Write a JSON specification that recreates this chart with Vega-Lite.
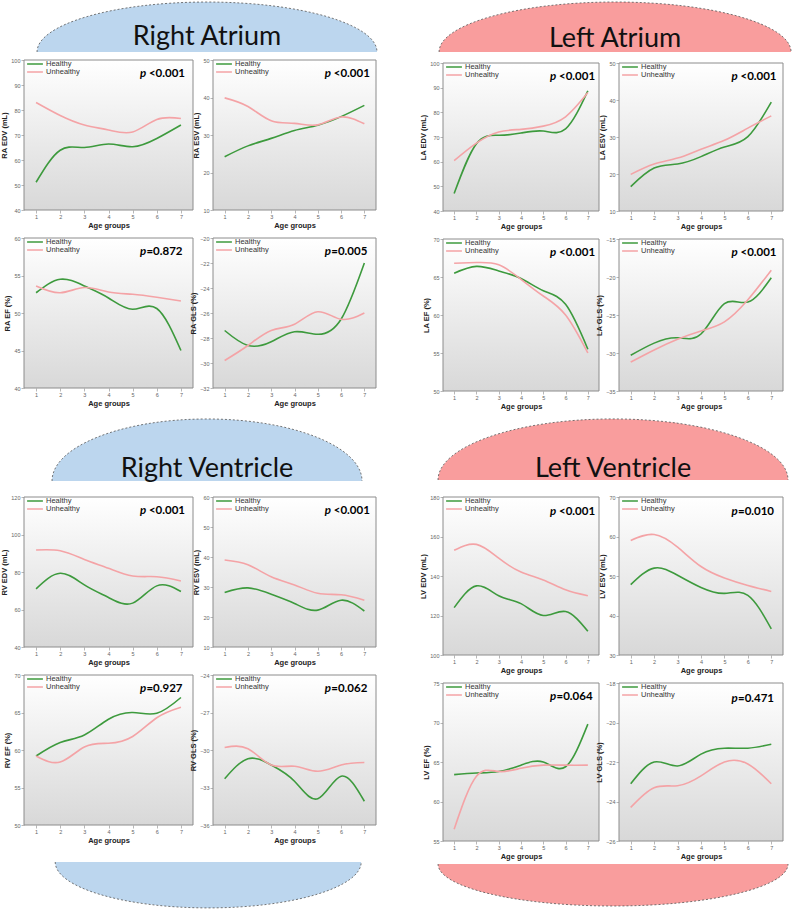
{
"$schema":"https://vega.github.io/schema/vega-lite/v6.json",
"padding":{"left":0,"top":0,"right":0,"bottom":0},
"background":"#ffffff",
"datasets":{"rows":[
{"panel":"RA EDV","age":1,"Healthy":51.1,"Unhealthy":83.0},{"panel":"RA EDV","age":2,"Healthy":63.9,"Unhealthy":77.8},{"panel":"RA EDV","age":3,"Healthy":65.0,"Unhealthy":74.0},{"panel":"RA EDV","age":4,"Healthy":66.4,"Unhealthy":72.0},{"panel":"RA EDV","age":5,"Healthy":65.3,"Unhealthy":71.2},{"panel":"RA EDV","age":6,"Healthy":68.6,"Unhealthy":76.2},{"panel":"RA EDV","age":7,"Healthy":74.0,"Unhealthy":76.6},
{"panel":"RA ESV","age":1,"Healthy":24.2,"Unhealthy":39.9},{"panel":"RA ESV","age":2,"Healthy":27.1,"Unhealthy":37.6},{"panel":"RA ESV","age":3,"Healthy":29.1,"Unhealthy":33.8},{"panel":"RA ESV","age":4,"Healthy":31.2,"Unhealthy":33.1},{"panel":"RA ESV","age":5,"Healthy":32.6,"Unhealthy":32.7},{"panel":"RA ESV","age":6,"Healthy":34.9,"Unhealthy":34.8},{"panel":"RA ESV","age":7,"Healthy":37.9,"Unhealthy":33.0},
{"panel":"RA EF","age":1,"Healthy":52.7,"Unhealthy":53.6},{"panel":"RA EF","age":2,"Healthy":54.5,"Unhealthy":52.7},{"panel":"RA EF","age":3,"Healthy":53.6,"Unhealthy":53.4},{"panel":"RA EF","age":4,"Healthy":52.0,"Unhealthy":52.8},{"panel":"RA EF","age":5,"Healthy":50.5,"Unhealthy":52.5},{"panel":"RA EF","age":6,"Healthy":50.6,"Unhealthy":52.1},{"panel":"RA EF","age":7,"Healthy":45.0,"Unhealthy":51.6},
{"panel":"RA GLS","age":1,"Healthy":-27.4,"Unhealthy":-29.8},{"panel":"RA GLS","age":2,"Healthy":-28.6,"Unhealthy":-28.6},{"panel":"RA GLS","age":3,"Healthy":-28.3,"Unhealthy":-27.4},{"panel":"RA GLS","age":4,"Healthy":-27.5,"Unhealthy":-26.9},{"panel":"RA GLS","age":5,"Healthy":-27.7,"Unhealthy":-25.9},{"panel":"RA GLS","age":6,"Healthy":-26.5,"Unhealthy":-26.5},{"panel":"RA GLS","age":7,"Healthy":-22.0,"Unhealthy":-26.0},
{"panel":"LA EDV","age":1,"Healthy":47.1,"Unhealthy":60.4},{"panel":"LA EDV","age":2,"Healthy":67.3,"Unhealthy":67.5},{"panel":"LA EDV","age":3,"Healthy":70.7,"Unhealthy":72.0},{"panel":"LA EDV","age":4,"Healthy":71.6,"Unhealthy":73.1},{"panel":"LA EDV","age":5,"Healthy":72.4,"Unhealthy":74.4},{"panel":"LA EDV","age":6,"Healthy":73.3,"Unhealthy":78.2},{"panel":"LA EDV","age":7,"Healthy":88.7,"Unhealthy":88.0},
{"panel":"LA ESV","age":1,"Healthy":16.6,"Unhealthy":19.9},{"panel":"LA ESV","age":2,"Healthy":21.6,"Unhealthy":22.7},{"panel":"LA ESV","age":3,"Healthy":22.7,"Unhealthy":24.3},{"panel":"LA ESV","age":4,"Healthy":24.7,"Unhealthy":26.7},{"panel":"LA ESV","age":5,"Healthy":27.3,"Unhealthy":29.1},{"panel":"LA ESV","age":6,"Healthy":30.1,"Unhealthy":32.4},{"panel":"LA ESV","age":7,"Healthy":39.4,"Unhealthy":35.7},
{"panel":"LA EF","age":1,"Healthy":65.5,"Unhealthy":66.8},{"panel":"LA EF","age":2,"Healthy":66.4,"Unhealthy":66.9},{"panel":"LA EF","age":3,"Healthy":65.8,"Unhealthy":66.6},{"panel":"LA EF","age":4,"Healthy":64.8,"Unhealthy":64.7},{"panel":"LA EF","age":5,"Healthy":63.2,"Unhealthy":62.5},{"panel":"LA EF","age":6,"Healthy":61.4,"Unhealthy":60.0},{"panel":"LA EF","age":7,"Healthy":55.5,"Unhealthy":55.0},
{"panel":"LA GLS","age":1,"Healthy":-30.3,"Unhealthy":-31.2},{"panel":"LA GLS","age":2,"Healthy":-28.7,"Unhealthy":-29.6},{"panel":"LA GLS","age":3,"Healthy":-28.0,"Unhealthy":-28.2},{"panel":"LA GLS","age":4,"Healthy":-27.5,"Unhealthy":-27.1},{"panel":"LA GLS","age":5,"Healthy":-23.5,"Unhealthy":-25.9},{"panel":"LA GLS","age":6,"Healthy":-23.3,"Unhealthy":-23.0},{"panel":"LA GLS","age":7,"Healthy":-20.1,"Unhealthy":-19.1},
{"panel":"RV EDV","age":1,"Healthy":71.0,"Unhealthy":91.7},{"panel":"RV EDV","age":2,"Healthy":79.3,"Unhealthy":91.3},{"panel":"RV EDV","age":3,"Healthy":73.1,"Unhealthy":86.7},{"panel":"RV EDV","age":4,"Healthy":66.4,"Unhealthy":82.0},{"panel":"RV EDV","age":5,"Healthy":63.4,"Unhealthy":77.9},{"panel":"RV EDV","age":6,"Healthy":72.6,"Unhealthy":77.5},{"panel":"RV EDV","age":7,"Healthy":69.6,"Unhealthy":75.2},
{"panel":"RV ESV","age":1,"Healthy":28.2,"Unhealthy":39.0},{"panel":"RV ESV","age":2,"Healthy":29.7,"Unhealthy":37.4},{"panel":"RV ESV","age":3,"Healthy":27.6,"Unhealthy":33.4},{"panel":"RV ESV","age":4,"Healthy":24.5,"Unhealthy":30.7},{"panel":"RV ESV","age":5,"Healthy":22.3,"Unhealthy":27.9},{"panel":"RV ESV","age":6,"Healthy":25.6,"Unhealthy":27.4},{"panel":"RV ESV","age":7,"Healthy":22.0,"Unhealthy":25.6},
{"panel":"RV EF","age":1,"Healthy":59.2,"Unhealthy":59.2},{"panel":"RV EF","age":2,"Healthy":61.0,"Unhealthy":58.4},{"panel":"RV EF","age":3,"Healthy":62.0,"Unhealthy":60.4},{"panel":"RV EF","age":4,"Healthy":64.1,"Unhealthy":60.9},{"panel":"RV EF","age":5,"Healthy":65.0,"Unhealthy":61.8},{"panel":"RV EF","age":6,"Healthy":64.9,"Unhealthy":64.3},{"panel":"RV EF","age":7,"Healthy":67.0,"Unhealthy":65.7},
{"panel":"RV GLS","age":1,"Healthy":-32.3,"Unhealthy":-29.8},{"panel":"RV GLS","age":2,"Healthy":-30.7,"Unhealthy":-29.9},{"panel":"RV GLS","age":3,"Healthy":-31.2,"Unhealthy":-31.2},{"panel":"RV GLS","age":4,"Healthy":-32.5,"Unhealthy":-31.3},{"panel":"RV GLS","age":5,"Healthy":-33.9,"Unhealthy":-31.7},{"panel":"RV GLS","age":6,"Healthy":-32.1,"Unhealthy":-31.2},{"panel":"RV GLS","age":7,"Healthy":-34.1,"Unhealthy":-31.0},
{"panel":"LV EDV","age":1,"Healthy":124,"Unhealthy":153},{"panel":"LV EDV","age":2,"Healthy":135,"Unhealthy":156},{"panel":"LV EDV","age":3,"Healthy":130,"Unhealthy":149},{"panel":"LV EDV","age":4,"Healthy":126,"Unhealthy":142},{"panel":"LV EDV","age":5,"Healthy":120,"Unhealthy":138},{"panel":"LV EDV","age":6,"Healthy":122,"Unhealthy":133},{"panel":"LV EDV","age":7,"Healthy":112,"Unhealthy":130},
{"panel":"LV ESV","age":1,"Healthy":47.8,"Unhealthy":59.0},{"panel":"LV ESV","age":2,"Healthy":52.0,"Unhealthy":60.5},{"panel":"LV ESV","age":3,"Healthy":50.2,"Unhealthy":57.3},{"panel":"LV ESV","age":4,"Healthy":47.1,"Unhealthy":52.4},{"panel":"LV ESV","age":5,"Healthy":45.6,"Unhealthy":49.5},{"panel":"LV ESV","age":6,"Healthy":45.1,"Unhealthy":47.6},{"panel":"LV ESV","age":7,"Healthy":36.6,"Unhealthy":46.1},
{"panel":"LV EF","age":1,"Healthy":63.4,"Unhealthy":56.5},{"panel":"LV EF","age":2,"Healthy":63.6,"Unhealthy":63.2},{"panel":"LV EF","age":3,"Healthy":63.8,"Unhealthy":63.8},{"panel":"LV EF","age":4,"Healthy":64.6,"Unhealthy":64.2},{"panel":"LV EF","age":5,"Healthy":65.0,"Unhealthy":64.6},{"panel":"LV EF","age":6,"Healthy":64.4,"Unhealthy":64.6},{"panel":"LV EF","age":7,"Healthy":69.8,"Unhealthy":64.6},
{"panel":"LV GLS","age":1,"Healthy":-23.1,"Unhealthy":-24.3},{"panel":"LV GLS","age":2,"Healthy":-22.0,"Unhealthy":-23.3},{"panel":"LV GLS","age":3,"Healthy":-22.2,"Unhealthy":-23.2},{"panel":"LV GLS","age":4,"Healthy":-21.6,"Unhealthy":-22.7},{"panel":"LV GLS","age":5,"Healthy":-21.3,"Unhealthy":-22.0},{"panel":"LV GLS","age":6,"Healthy":-21.3,"Unhealthy":-22.1},{"panel":"LV GLS","age":7,"Healthy":-21.1,"Unhealthy":-23.1}
]},
"data":{"name":"rows"},
"spacing":40,
"resolve":{"scale":{"x":"independent","y":"independent","color":"independent"},"legend":{"color":"independent"}},
"hconcat":[
{"columns":2,"bounds":"flush","align":"each","spacing":{"row":28,"column":20},
 "resolve":{"scale":{"x":"independent","y":"independent","color":"independent"},"legend":{"color":"independent"}},
 "concat":[
  {"width":169,"height":30,"data":{"values":[{"t":"Right Atrium"}]},"layer":[
   {"mark":{"type":"point","shape":"M-1,0A1,0.294,0,0,1,1,0","size":115600,"filled":true,"fill":"#bcd6ee","stroke":"#555555","strokeWidth":0.8,"strokeDash":[2,2],"opacity":1},"encoding":{"x":{"datum":1.083,"type":"quantitative","scale":{"domain":[0,1]},"axis":null},"y":{"datum":-0.667,"type":"quantitative","scale":{"domain":[0,1]},"axis":null}}},
   {"mark":{"type":"text","font":"Lato","fontSize":27,"color":"#111111","baseline":"middle"},"encoding":{"x":{"datum":1.083,"type":"quantitative","scale":{"domain":[0,1]},"axis":null},"y":{"datum":-0.167,"type":"quantitative","scale":{"domain":[0,1]},"axis":null},"text":{"field":"t"}}}
  ]},
  {"width":163,"height":30,"data":{"values":[{"t":""}]},"mark":{"type":"text"},"encoding":{"text":{"field":"t"}}},
  {"width":169,"height":150,"layer":[
   {"data":{"values":[{}]},"mark":{"type":"rect","stroke":"#8c8c8c","strokeWidth":1,"fill":{"gradient":"linear","x1":0,"y1":0,"x2":0,"y2":1,"stops":[{"offset":0,"color":"#ffffff"},{"offset":1,"color":"#d8d8d8"}]}},"encoding":{}},
   {"transform":[{"filter":"datum.panel==='RA EDV'"},{"fold":["Healthy","Unhealthy"],"as":["status","value"]}],"mark":{"type":"line","interpolate":"natural","strokeWidth":1.6},"encoding":{"x":{"field":"age","type":"quantitative","scale":{"domain":[0.5,7.5],"nice":false,"zero":false},"axis":{"values":[1,2,3,4,5,6,7],"tickCount":20,"format":"d","title":"Age groups"}},"y":{"field":"value","type":"quantitative","scale":{"domain":[40,100],"nice":false,"zero":false},"axis":{"values":[40,50,60,70,80,90,100],"tickCount":20,"format":"d","title":"RA EDV (mL)"}},"color":{"field":"status","type":"nominal","scale":{"domain":["Healthy","Unhealthy"],"range":["#3d9a3d","#f4a3a6"]},"legend":{"title":null}}}},
   {"data":{"values":[{"t":"p"}]},"mark":{"type":"text","align":"left","baseline":"middle","font":"Lato","fontSize":11.5,"fontWeight":"bold","fontStyle":"italic"},"encoding":{"x":{"datum":5.3},"y":{"datum":94.3},"text":{"field":"t"}}},
   {"data":{"values":[{"t":"<0.001"}]},"mark":{"type":"text","align":"left","baseline":"middle","font":"Lato","fontSize":11.5,"fontWeight":"bold","dx":9},"encoding":{"x":{"datum":5.3},"y":{"datum":94.3},"text":{"field":"t"}}}
  ]},
  {"width":163,"height":150,"layer":[
   {"data":{"values":[{}]},"mark":{"type":"rect","stroke":"#8c8c8c","strokeWidth":1,"fill":{"gradient":"linear","x1":0,"y1":0,"x2":0,"y2":1,"stops":[{"offset":0,"color":"#ffffff"},{"offset":1,"color":"#d8d8d8"}]}},"encoding":{}},
   {"transform":[{"filter":"datum.panel==='RA ESV'"},{"fold":["Healthy","Unhealthy"],"as":["status","value"]}],"mark":{"type":"line","interpolate":"natural","strokeWidth":1.6},"encoding":{"x":{"field":"age","type":"quantitative","scale":{"domain":[0.5,7.5],"nice":false,"zero":false},"axis":{"values":[1,2,3,4,5,6,7],"tickCount":20,"format":"d","title":"Age groups"}},"y":{"field":"value","type":"quantitative","scale":{"domain":[10,50],"nice":false,"zero":false},"axis":{"values":[10,20,30,40,50],"tickCount":20,"format":"d","title":"RA ESV (mL)"}},"color":{"field":"status","type":"nominal","scale":{"domain":["Healthy","Unhealthy"],"range":["#3d9a3d","#f4a3a6"]},"legend":{"title":null}}}},
   {"data":{"values":[{"t":"p"}]},"mark":{"type":"text","align":"left","baseline":"middle","font":"Lato","fontSize":11.5,"fontWeight":"bold","fontStyle":"italic"},"encoding":{"x":{"datum":5.3},"y":{"datum":46.2},"text":{"field":"t"}}},
   {"data":{"values":[{"t":"<0.001"}]},"mark":{"type":"text","align":"left","baseline":"middle","font":"Lato","fontSize":11.5,"fontWeight":"bold","dx":9},"encoding":{"x":{"datum":5.3},"y":{"datum":46.2},"text":{"field":"t"}}}
  ]},
  {"width":169,"height":150,"layer":[
   {"data":{"values":[{}]},"mark":{"type":"rect","stroke":"#8c8c8c","strokeWidth":1,"fill":{"gradient":"linear","x1":0,"y1":0,"x2":0,"y2":1,"stops":[{"offset":0,"color":"#ffffff"},{"offset":1,"color":"#d8d8d8"}]}},"encoding":{}},
   {"transform":[{"filter":"datum.panel==='RA EF'"},{"fold":["Healthy","Unhealthy"],"as":["status","value"]}],"mark":{"type":"line","interpolate":"natural","strokeWidth":1.6},"encoding":{"x":{"field":"age","type":"quantitative","scale":{"domain":[0.5,7.5],"nice":false,"zero":false},"axis":{"values":[1,2,3,4,5,6,7],"tickCount":20,"format":"d","title":"Age groups"}},"y":{"field":"value","type":"quantitative","scale":{"domain":[40,60],"nice":false,"zero":false},"axis":{"values":[40,45,50,55,60],"tickCount":20,"format":"d","title":"RA EF (%)"}},"color":{"field":"status","type":"nominal","scale":{"domain":["Healthy","Unhealthy"],"range":["#3d9a3d","#f4a3a6"]},"legend":{"title":null}}}},
   {"data":{"values":[{"t":"p"}]},"mark":{"type":"text","align":"left","baseline":"middle","font":"Lato","fontSize":11.5,"fontWeight":"bold","fontStyle":"italic"},"encoding":{"x":{"datum":5.3},"y":{"datum":58.2},"text":{"field":"t"}}},
   {"data":{"values":[{"t":"=0.872"}]},"mark":{"type":"text","align":"left","baseline":"middle","font":"Lato","fontSize":11.5,"fontWeight":"bold","dx":6.5},"encoding":{"x":{"datum":5.3},"y":{"datum":58.2},"text":{"field":"t"}}}
  ]},
  {"width":163,"height":150,"layer":[
   {"data":{"values":[{}]},"mark":{"type":"rect","stroke":"#8c8c8c","strokeWidth":1,"fill":{"gradient":"linear","x1":0,"y1":0,"x2":0,"y2":1,"stops":[{"offset":0,"color":"#ffffff"},{"offset":1,"color":"#d8d8d8"}]}},"encoding":{}},
   {"transform":[{"filter":"datum.panel==='RA GLS'"},{"fold":["Healthy","Unhealthy"],"as":["status","value"]}],"mark":{"type":"line","interpolate":"natural","strokeWidth":1.6},"encoding":{"x":{"field":"age","type":"quantitative","scale":{"domain":[0.5,7.5],"nice":false,"zero":false},"axis":{"values":[1,2,3,4,5,6,7],"tickCount":20,"format":"d","title":"Age groups"}},"y":{"field":"value","type":"quantitative","scale":{"domain":[-32,-20],"nice":false,"zero":false},"axis":{"values":[-32,-30,-28,-26,-24,-22,-20],"tickCount":20,"format":"d","title":"RA GLS (%)"}},"color":{"field":"status","type":"nominal","scale":{"domain":["Healthy","Unhealthy"],"range":["#3d9a3d","#f4a3a6"]},"legend":{"title":null}}}},
   {"data":{"values":[{"t":"p"}]},"mark":{"type":"text","align":"left","baseline":"middle","font":"Lato","fontSize":11.5,"fontWeight":"bold","fontStyle":"italic"},"encoding":{"x":{"datum":5.3},"y":{"datum":-21.1},"text":{"field":"t"}}},
   {"data":{"values":[{"t":"=0.005"}]},"mark":{"type":"text","align":"left","baseline":"middle","font":"Lato","fontSize":11.5,"fontWeight":"bold","dx":6.5},"encoding":{"x":{"datum":5.3},"y":{"datum":-21.1},"text":{"field":"t"}}}
  ]},
  {"width":169,"height":53,"data":{"values":[{"t":"Right Ventricle"}]},"layer":[
   {"mark":{"type":"point","shape":"M-1,0A1,0.4,0,0,1,1,0","size":96100,"filled":true,"fill":"#bcd6ee","stroke":"#555555","strokeWidth":0.8,"strokeDash":[2,2],"opacity":1},"encoding":{"x":{"datum":1.083,"type":"quantitative","scale":{"domain":[0,1]},"axis":null},"y":{"datum":-0.226,"type":"quantitative","scale":{"domain":[0,1]},"axis":null}}},
   {"mark":{"type":"text","font":"Lato","fontSize":27,"color":"#111111","baseline":"middle"},"encoding":{"x":{"datum":1.083,"type":"quantitative","scale":{"domain":[0,1]},"axis":null},"y":{"datum":0,"type":"quantitative","scale":{"domain":[0,1]},"axis":null},"text":{"field":"t"}}}
  ]},
  {"width":163,"height":53,"data":{"values":[{"t":""}]},"mark":{"type":"text"},"encoding":{"text":{"field":"t"}}},
  {"width":169,"height":150,"layer":[
   {"data":{"values":[{}]},"mark":{"type":"rect","stroke":"#8c8c8c","strokeWidth":1,"fill":{"gradient":"linear","x1":0,"y1":0,"x2":0,"y2":1,"stops":[{"offset":0,"color":"#ffffff"},{"offset":1,"color":"#d8d8d8"}]}},"encoding":{}},
   {"transform":[{"filter":"datum.panel==='RV EDV'"},{"fold":["Healthy","Unhealthy"],"as":["status","value"]}],"mark":{"type":"line","interpolate":"natural","strokeWidth":1.6},"encoding":{"x":{"field":"age","type":"quantitative","scale":{"domain":[0.5,7.5],"nice":false,"zero":false},"axis":{"values":[1,2,3,4,5,6,7],"tickCount":20,"format":"d","title":"Age groups"}},"y":{"field":"value","type":"quantitative","scale":{"domain":[40,120],"nice":false,"zero":false},"axis":{"values":[40,60,80,100,120],"tickCount":20,"format":"d","title":"RV EDV (mL)"}},"color":{"field":"status","type":"nominal","scale":{"domain":["Healthy","Unhealthy"],"range":["#3d9a3d","#f4a3a6"]},"legend":{"title":null}}}},
   {"data":{"values":[{"t":"p"}]},"mark":{"type":"text","align":"left","baseline":"middle","font":"Lato","fontSize":11.5,"fontWeight":"bold","fontStyle":"italic"},"encoding":{"x":{"datum":5.3},"y":{"datum":112.6},"text":{"field":"t"}}},
   {"data":{"values":[{"t":"<0.001"}]},"mark":{"type":"text","align":"left","baseline":"middle","font":"Lato","fontSize":11.5,"fontWeight":"bold","dx":9},"encoding":{"x":{"datum":5.3},"y":{"datum":112.6},"text":{"field":"t"}}}
  ]},
  {"width":163,"height":150,"layer":[
   {"data":{"values":[{}]},"mark":{"type":"rect","stroke":"#8c8c8c","strokeWidth":1,"fill":{"gradient":"linear","x1":0,"y1":0,"x2":0,"y2":1,"stops":[{"offset":0,"color":"#ffffff"},{"offset":1,"color":"#d8d8d8"}]}},"encoding":{}},
   {"transform":[{"filter":"datum.panel==='RV ESV'"},{"fold":["Healthy","Unhealthy"],"as":["status","value"]}],"mark":{"type":"line","interpolate":"natural","strokeWidth":1.6},"encoding":{"x":{"field":"age","type":"quantitative","scale":{"domain":[0.5,7.5],"nice":false,"zero":false},"axis":{"values":[1,2,3,4,5,6,7],"tickCount":20,"format":"d","title":"Age groups"}},"y":{"field":"value","type":"quantitative","scale":{"domain":[10,60],"nice":false,"zero":false},"axis":{"values":[10,20,30,40,50,60],"tickCount":20,"format":"d","title":"RV ESV (mL)"}},"color":{"field":"status","type":"nominal","scale":{"domain":["Healthy","Unhealthy"],"range":["#3d9a3d","#f4a3a6"]},"legend":{"title":null}}}},
   {"data":{"values":[{"t":"p"}]},"mark":{"type":"text","align":"left","baseline":"middle","font":"Lato","fontSize":11.5,"fontWeight":"bold","fontStyle":"italic"},"encoding":{"x":{"datum":5.3},"y":{"datum":55.4},"text":{"field":"t"}}},
   {"data":{"values":[{"t":"<0.001"}]},"mark":{"type":"text","align":"left","baseline":"middle","font":"Lato","fontSize":11.5,"fontWeight":"bold","dx":9},"encoding":{"x":{"datum":5.3},"y":{"datum":55.4},"text":{"field":"t"}}}
  ]},
  {"width":169,"height":150,"layer":[
   {"data":{"values":[{}]},"mark":{"type":"rect","stroke":"#8c8c8c","strokeWidth":1,"fill":{"gradient":"linear","x1":0,"y1":0,"x2":0,"y2":1,"stops":[{"offset":0,"color":"#ffffff"},{"offset":1,"color":"#d8d8d8"}]}},"encoding":{}},
   {"transform":[{"filter":"datum.panel==='RV EF'"},{"fold":["Healthy","Unhealthy"],"as":["status","value"]}],"mark":{"type":"line","interpolate":"natural","strokeWidth":1.6},"encoding":{"x":{"field":"age","type":"quantitative","scale":{"domain":[0.5,7.5],"nice":false,"zero":false},"axis":{"values":[1,2,3,4,5,6,7],"tickCount":20,"format":"d","title":"Age groups"}},"y":{"field":"value","type":"quantitative","scale":{"domain":[50,70],"nice":false,"zero":false},"axis":{"values":[50,55,60,65,70],"tickCount":20,"format":"d","title":"RV EF (%)"}},"color":{"field":"status","type":"nominal","scale":{"domain":["Healthy","Unhealthy"],"range":["#3d9a3d","#f4a3a6"]},"legend":{"title":null}}}},
   {"data":{"values":[{"t":"p"}]},"mark":{"type":"text","align":"left","baseline":"middle","font":"Lato","fontSize":11.5,"fontWeight":"bold","fontStyle":"italic"},"encoding":{"x":{"datum":5.3},"y":{"datum":68.1},"text":{"field":"t"}}},
   {"data":{"values":[{"t":"=0.927"}]},"mark":{"type":"text","align":"left","baseline":"middle","font":"Lato","fontSize":11.5,"fontWeight":"bold","dx":6.5},"encoding":{"x":{"datum":5.3},"y":{"datum":68.1},"text":{"field":"t"}}}
  ]},
  {"width":163,"height":150,"layer":[
   {"data":{"values":[{}]},"mark":{"type":"rect","stroke":"#8c8c8c","strokeWidth":1,"fill":{"gradient":"linear","x1":0,"y1":0,"x2":0,"y2":1,"stops":[{"offset":0,"color":"#ffffff"},{"offset":1,"color":"#d8d8d8"}]}},"encoding":{}},
   {"transform":[{"filter":"datum.panel==='RV GLS'"},{"fold":["Healthy","Unhealthy"],"as":["status","value"]}],"mark":{"type":"line","interpolate":"natural","strokeWidth":1.6},"encoding":{"x":{"field":"age","type":"quantitative","scale":{"domain":[0.5,7.5],"nice":false,"zero":false},"axis":{"values":[1,2,3,4,5,6,7],"tickCount":20,"format":"d","title":"Age groups"}},"y":{"field":"value","type":"quantitative","scale":{"domain":[-36,-24],"nice":false,"zero":false},"axis":{"values":[-36,-33,-30,-27,-24],"tickCount":20,"format":"d","title":"RV GLS (%)"}},"color":{"field":"status","type":"nominal","scale":{"domain":["Healthy","Unhealthy"],"range":["#3d9a3d","#f4a3a6"]},"legend":{"title":null}}}},
   {"data":{"values":[{"t":"p"}]},"mark":{"type":"text","align":"left","baseline":"middle","font":"Lato","fontSize":11.5,"fontWeight":"bold","fontStyle":"italic"},"encoding":{"x":{"datum":5.3},"y":{"datum":-25.1},"text":{"field":"t"}}},
   {"data":{"values":[{"t":"=0.062"}]},"mark":{"type":"text","align":"left","baseline":"middle","font":"Lato","fontSize":11.5,"fontWeight":"bold","dx":6.5},"encoding":{"x":{"datum":5.3},"y":{"datum":-25.1},"text":{"field":"t"}}}
  ]},
  {"width":169,"height":20,"data":{"values":[{"t":"cap"}]},"mark":{"type":"point","shape":"M-1,0A1,0.3,0,0,0,1,0","size":93636,"filled":true,"fill":"#bcd6ee","stroke":"#555555","strokeWidth":0.8,"strokeDash":[2,2],"opacity":1},"encoding":{"x":{"datum":1.09,"type":"quantitative","scale":{"domain":[0,1]},"axis":null},"y":{"datum":0.55,"type":"quantitative","scale":{"domain":[0,1]},"axis":null}}},
  {"width":163,"height":20,"data":{"values":[{"t":""}]},"mark":{"type":"text"},"encoding":{"text":{"field":"t"}}}
 ]},
{"columns":2,"bounds":"flush","align":"each","spacing":{"row":28,"column":20},
 "resolve":{"scale":{"x":"independent","y":"independent","color":"independent"},"legend":{"color":"independent"}},
 "concat":[
  {"width":156,"height":33,"data":{"values":[{"t":"Left Atrium"}]},"layer":[
   {"mark":{"type":"point","shape":"M-1,0A1,0.284,0,0,1,1,0","size":123904,"filled":true,"fill":"#f99d9d","stroke":"#555555","strokeWidth":0.8,"strokeDash":[2,2],"opacity":1},"encoding":{"x":{"datum":1.103,"type":"quantitative","scale":{"domain":[0,1]},"axis":null},"y":{"datum":-0.515,"type":"quantitative","scale":{"domain":[0,1]},"axis":null}}},
   {"mark":{"type":"text","font":"Lato","fontSize":27,"color":"#111111","baseline":"middle"},"encoding":{"x":{"datum":1.103,"type":"quantitative","scale":{"domain":[0,1]},"axis":null},"y":{"datum":-0.121,"type":"quantitative","scale":{"domain":[0,1]},"axis":null},"text":{"field":"t"}}}
  ]},
  {"width":164,"height":33,"data":{"values":[{"t":""}]},"mark":{"type":"text"},"encoding":{"text":{"field":"t"}}},
  {"width":156,"height":148,"layer":[
   {"data":{"values":[{}]},"mark":{"type":"rect","stroke":"#8c8c8c","strokeWidth":1,"fill":{"gradient":"linear","x1":0,"y1":0,"x2":0,"y2":1,"stops":[{"offset":0,"color":"#ffffff"},{"offset":1,"color":"#d8d8d8"}]}},"encoding":{}},
   {"transform":[{"filter":"datum.panel==='LA EDV'"},{"fold":["Healthy","Unhealthy"],"as":["status","value"]}],"mark":{"type":"line","interpolate":"natural","strokeWidth":1.6},"encoding":{"x":{"field":"age","type":"quantitative","scale":{"domain":[0.5,7.5],"nice":false,"zero":false},"axis":{"values":[1,2,3,4,5,6,7],"tickCount":20,"format":"d","title":"Age groups"}},"y":{"field":"value","type":"quantitative","scale":{"domain":[40,100],"nice":false,"zero":false},"axis":{"values":[40,50,60,70,80,90,100],"tickCount":20,"format":"d","title":"LA EDV (mL)"}},"color":{"field":"status","type":"nominal","scale":{"domain":["Healthy","Unhealthy"],"range":["#3d9a3d","#f4a3a6"]},"legend":{"title":null}}}},
   {"data":{"values":[{"t":"p"}]},"mark":{"type":"text","align":"left","baseline":"middle","font":"Lato","fontSize":11.5,"fontWeight":"bold","fontStyle":"italic"},"encoding":{"x":{"datum":5.3},"y":{"datum":94.3},"text":{"field":"t"}}},
   {"data":{"values":[{"t":"<0.001"}]},"mark":{"type":"text","align":"left","baseline":"middle","font":"Lato","fontSize":11.5,"fontWeight":"bold","dx":9},"encoding":{"x":{"datum":5.3},"y":{"datum":94.3},"text":{"field":"t"}}}
  ]},
  {"width":164,"height":148,"layer":[
   {"data":{"values":[{}]},"mark":{"type":"rect","stroke":"#8c8c8c","strokeWidth":1,"fill":{"gradient":"linear","x1":0,"y1":0,"x2":0,"y2":1,"stops":[{"offset":0,"color":"#ffffff"},{"offset":1,"color":"#d8d8d8"}]}},"encoding":{}},
   {"transform":[{"filter":"datum.panel==='LA ESV'"},{"fold":["Healthy","Unhealthy"],"as":["status","value"]}],"mark":{"type":"line","interpolate":"natural","strokeWidth":1.6},"encoding":{"x":{"field":"age","type":"quantitative","scale":{"domain":[0.5,7.5],"nice":false,"zero":false},"axis":{"values":[1,2,3,4,5,6,7],"tickCount":20,"format":"d","title":"Age groups"}},"y":{"field":"value","type":"quantitative","scale":{"domain":[10,50],"nice":false,"zero":false},"axis":{"values":[10,20,30,40,50],"tickCount":20,"format":"d","title":"LA ESV (mL)"}},"color":{"field":"status","type":"nominal","scale":{"domain":["Healthy","Unhealthy"],"range":["#3d9a3d","#f4a3a6"]},"legend":{"title":null}}}},
   {"data":{"values":[{"t":"p"}]},"mark":{"type":"text","align":"left","baseline":"middle","font":"Lato","fontSize":11.5,"fontWeight":"bold","fontStyle":"italic"},"encoding":{"x":{"datum":5.3},"y":{"datum":46.2},"text":{"field":"t"}}},
   {"data":{"values":[{"t":"<0.001"}]},"mark":{"type":"text","align":"left","baseline":"middle","font":"Lato","fontSize":11.5,"fontWeight":"bold","dx":9},"encoding":{"x":{"datum":5.3},"y":{"datum":46.2},"text":{"field":"t"}}}
  ]},
  {"width":156,"height":152,"layer":[
   {"data":{"values":[{}]},"mark":{"type":"rect","stroke":"#8c8c8c","strokeWidth":1,"fill":{"gradient":"linear","x1":0,"y1":0,"x2":0,"y2":1,"stops":[{"offset":0,"color":"#ffffff"},{"offset":1,"color":"#d8d8d8"}]}},"encoding":{}},
   {"transform":[{"filter":"datum.panel==='LA EF'"},{"fold":["Healthy","Unhealthy"],"as":["status","value"]}],"mark":{"type":"line","interpolate":"natural","strokeWidth":1.6},"encoding":{"x":{"field":"age","type":"quantitative","scale":{"domain":[0.5,7.5],"nice":false,"zero":false},"axis":{"values":[1,2,3,4,5,6,7],"tickCount":20,"format":"d","title":"Age groups"}},"y":{"field":"value","type":"quantitative","scale":{"domain":[50,70],"nice":false,"zero":false},"axis":{"values":[50,55,60,65,70],"tickCount":20,"format":"d","title":"LA EF (%)"}},"color":{"field":"status","type":"nominal","scale":{"domain":["Healthy","Unhealthy"],"range":["#3d9a3d","#f4a3a6"]},"legend":{"title":null}}}},
   {"data":{"values":[{"t":"p"}]},"mark":{"type":"text","align":"left","baseline":"middle","font":"Lato","fontSize":11.5,"fontWeight":"bold","fontStyle":"italic"},"encoding":{"x":{"datum":5.3},"y":{"datum":68.1},"text":{"field":"t"}}},
   {"data":{"values":[{"t":"<0.001"}]},"mark":{"type":"text","align":"left","baseline":"middle","font":"Lato","fontSize":11.5,"fontWeight":"bold","dx":9},"encoding":{"x":{"datum":5.3},"y":{"datum":68.1},"text":{"field":"t"}}}
  ]},
  {"width":164,"height":152,"layer":[
   {"data":{"values":[{}]},"mark":{"type":"rect","stroke":"#8c8c8c","strokeWidth":1,"fill":{"gradient":"linear","x1":0,"y1":0,"x2":0,"y2":1,"stops":[{"offset":0,"color":"#ffffff"},{"offset":1,"color":"#d8d8d8"}]}},"encoding":{}},
   {"transform":[{"filter":"datum.panel==='LA GLS'"},{"fold":["Healthy","Unhealthy"],"as":["status","value"]}],"mark":{"type":"line","interpolate":"natural","strokeWidth":1.6},"encoding":{"x":{"field":"age","type":"quantitative","scale":{"domain":[0.5,7.5],"nice":false,"zero":false},"axis":{"values":[1,2,3,4,5,6,7],"tickCount":20,"format":"d","title":"Age groups"}},"y":{"field":"value","type":"quantitative","scale":{"domain":[-35,-15],"nice":false,"zero":false},"axis":{"values":[-35,-30,-25,-20,-15],"tickCount":20,"format":"d","title":"LA GLS (%)"}},"color":{"field":"status","type":"nominal","scale":{"domain":["Healthy","Unhealthy"],"range":["#3d9a3d","#f4a3a6"]},"legend":{"title":null}}}},
   {"data":{"values":[{"t":"p"}]},"mark":{"type":"text","align":"left","baseline":"middle","font":"Lato","fontSize":11.5,"fontWeight":"bold","fontStyle":"italic"},"encoding":{"x":{"datum":5.3},"y":{"datum":-16.9},"text":{"field":"t"}}},
   {"data":{"values":[{"t":"<0.001"}]},"mark":{"type":"text","align":"left","baseline":"middle","font":"Lato","fontSize":11.5,"fontWeight":"bold","dx":9},"encoding":{"x":{"datum":5.3},"y":{"datum":-16.9},"text":{"field":"t"}}}
  ]},
  {"width":156,"height":50,"data":{"values":[{"t":"Left Ventricle"}]},"layer":[
   {"mark":{"type":"point","shape":"M-1,0A1,0.349,0,0,1,1,0","size":122500,"filled":true,"fill":"#f99d9d","stroke":"#555555","strokeWidth":0.8,"strokeDash":[2,2],"opacity":1},"encoding":{"x":{"datum":1.09,"type":"quantitative","scale":{"domain":[0,1]},"axis":null},"y":{"datum":-0.22,"type":"quantitative","scale":{"domain":[0,1]},"axis":null}}},
   {"mark":{"type":"text","font":"Lato","fontSize":27,"color":"#111111","baseline":"middle"},"encoding":{"x":{"datum":1.09,"type":"quantitative","scale":{"domain":[0,1]},"axis":null},"y":{"datum":0,"type":"quantitative","scale":{"domain":[0,1]},"axis":null},"text":{"field":"t"}}}
  ]},
  {"width":164,"height":50,"data":{"values":[{"t":""}]},"mark":{"type":"text"},"encoding":{"text":{"field":"t"}}},
  {"width":156,"height":158,"layer":[
   {"data":{"values":[{}]},"mark":{"type":"rect","stroke":"#8c8c8c","strokeWidth":1,"fill":{"gradient":"linear","x1":0,"y1":0,"x2":0,"y2":1,"stops":[{"offset":0,"color":"#ffffff"},{"offset":1,"color":"#d8d8d8"}]}},"encoding":{}},
   {"transform":[{"filter":"datum.panel==='LV EDV'"},{"fold":["Healthy","Unhealthy"],"as":["status","value"]}],"mark":{"type":"line","interpolate":"natural","strokeWidth":1.6},"encoding":{"x":{"field":"age","type":"quantitative","scale":{"domain":[0.5,7.5],"nice":false,"zero":false},"axis":{"values":[1,2,3,4,5,6,7],"tickCount":20,"format":"d","title":"Age groups"}},"y":{"field":"value","type":"quantitative","scale":{"domain":[100,180],"nice":false,"zero":false},"axis":{"values":[100,120,140,160,180],"tickCount":20,"format":"d","title":"LV EDV (mL)"}},"color":{"field":"status","type":"nominal","scale":{"domain":["Healthy","Unhealthy"],"range":["#3d9a3d","#f4a3a6"]},"legend":{"title":null}}}},
   {"data":{"values":[{"t":"p"}]},"mark":{"type":"text","align":"left","baseline":"middle","font":"Lato","fontSize":11.5,"fontWeight":"bold","fontStyle":"italic"},"encoding":{"x":{"datum":5.3},"y":{"datum":172.6},"text":{"field":"t"}}},
   {"data":{"values":[{"t":"<0.001"}]},"mark":{"type":"text","align":"left","baseline":"middle","font":"Lato","fontSize":11.5,"fontWeight":"bold","dx":9},"encoding":{"x":{"datum":5.3},"y":{"datum":172.6},"text":{"field":"t"}}}
  ]},
  {"width":164,"height":158,"layer":[
   {"data":{"values":[{}]},"mark":{"type":"rect","stroke":"#8c8c8c","strokeWidth":1,"fill":{"gradient":"linear","x1":0,"y1":0,"x2":0,"y2":1,"stops":[{"offset":0,"color":"#ffffff"},{"offset":1,"color":"#d8d8d8"}]}},"encoding":{}},
   {"transform":[{"filter":"datum.panel==='LV ESV'"},{"fold":["Healthy","Unhealthy"],"as":["status","value"]}],"mark":{"type":"line","interpolate":"natural","strokeWidth":1.6},"encoding":{"x":{"field":"age","type":"quantitative","scale":{"domain":[0.5,7.5],"nice":false,"zero":false},"axis":{"values":[1,2,3,4,5,6,7],"tickCount":20,"format":"d","title":"Age groups"}},"y":{"field":"value","type":"quantitative","scale":{"domain":[30,70],"nice":false,"zero":false},"axis":{"values":[30,40,50,60,70],"tickCount":20,"format":"d","title":"LV ESV (mL)"}},"color":{"field":"status","type":"nominal","scale":{"domain":["Healthy","Unhealthy"],"range":["#3d9a3d","#f4a3a6"]},"legend":{"title":null}}}},
   {"data":{"values":[{"t":"p"}]},"mark":{"type":"text","align":"left","baseline":"middle","font":"Lato","fontSize":11.5,"fontWeight":"bold","fontStyle":"italic"},"encoding":{"x":{"datum":5.3},"y":{"datum":66.3},"text":{"field":"t"}}},
   {"data":{"values":[{"t":"=0.010"}]},"mark":{"type":"text","align":"left","baseline":"middle","font":"Lato","fontSize":11.5,"fontWeight":"bold","dx":6.5},"encoding":{"x":{"datum":5.3},"y":{"datum":66.3},"text":{"field":"t"}}}
  ]},
  {"width":156,"height":158,"layer":[
   {"data":{"values":[{}]},"mark":{"type":"rect","stroke":"#8c8c8c","strokeWidth":1,"fill":{"gradient":"linear","x1":0,"y1":0,"x2":0,"y2":1,"stops":[{"offset":0,"color":"#ffffff"},{"offset":1,"color":"#d8d8d8"}]}},"encoding":{}},
   {"transform":[{"filter":"datum.panel==='LV EF'"},{"fold":["Healthy","Unhealthy"],"as":["status","value"]}],"mark":{"type":"line","interpolate":"natural","strokeWidth":1.6},"encoding":{"x":{"field":"age","type":"quantitative","scale":{"domain":[0.5,7.5],"nice":false,"zero":false},"axis":{"values":[1,2,3,4,5,6,7],"tickCount":20,"format":"d","title":"Age groups"}},"y":{"field":"value","type":"quantitative","scale":{"domain":[55,75],"nice":false,"zero":false},"axis":{"values":[55,60,65,70,75],"tickCount":20,"format":"d","title":"LV EF (%)"}},"color":{"field":"status","type":"nominal","scale":{"domain":["Healthy","Unhealthy"],"range":["#3d9a3d","#f4a3a6"]},"legend":{"title":null}}}},
   {"data":{"values":[{"t":"p"}]},"mark":{"type":"text","align":"left","baseline":"middle","font":"Lato","fontSize":11.5,"fontWeight":"bold","fontStyle":"italic"},"encoding":{"x":{"datum":5.3},"y":{"datum":73.2},"text":{"field":"t"}}},
   {"data":{"values":[{"t":"=0.064"}]},"mark":{"type":"text","align":"left","baseline":"middle","font":"Lato","fontSize":11.5,"fontWeight":"bold","dx":6.5},"encoding":{"x":{"datum":5.3},"y":{"datum":73.2},"text":{"field":"t"}}}
  ]},
  {"width":164,"height":158,"layer":[
   {"data":{"values":[{}]},"mark":{"type":"rect","stroke":"#8c8c8c","strokeWidth":1,"fill":{"gradient":"linear","x1":0,"y1":0,"x2":0,"y2":1,"stops":[{"offset":0,"color":"#ffffff"},{"offset":1,"color":"#d8d8d8"}]}},"encoding":{}},
   {"transform":[{"filter":"datum.panel==='LV GLS'"},{"fold":["Healthy","Unhealthy"],"as":["status","value"]}],"mark":{"type":"line","interpolate":"natural","strokeWidth":1.6},"encoding":{"x":{"field":"age","type":"quantitative","scale":{"domain":[0.5,7.5],"nice":false,"zero":false},"axis":{"values":[1,2,3,4,5,6,7],"tickCount":20,"format":"d","title":"Age groups"}},"y":{"field":"value","type":"quantitative","scale":{"domain":[-26,-18],"nice":false,"zero":false},"axis":{"values":[-26,-24,-22,-20,-18],"tickCount":20,"format":"d","title":"LV GLS (%)"}},"color":{"field":"status","type":"nominal","scale":{"domain":["Healthy","Unhealthy"],"range":["#3d9a3d","#f4a3a6"]},"legend":{"title":null}}}},
   {"data":{"values":[{"t":"p"}]},"mark":{"type":"text","align":"left","baseline":"middle","font":"Lato","fontSize":11.5,"fontWeight":"bold","fontStyle":"italic"},"encoding":{"x":{"datum":5.3},"y":{"datum":-18.8},"text":{"field":"t"}}},
   {"data":{"values":[{"t":"=0.471"}]},"mark":{"type":"text","align":"left","baseline":"middle","font":"Lato","fontSize":11.5,"fontWeight":"bold","dx":6.5},"encoding":{"x":{"datum":5.3},"y":{"datum":-18.8},"text":{"field":"t"}}}
  ]},
  {"width":156,"height":10,"data":{"values":[{"t":"cap"}]},"mark":{"type":"point","shape":"M-1,0A1,0.24,0,0,0,1,0","size":122500,"filled":true,"fill":"#f99d9d","stroke":"#555555","strokeWidth":0.8,"strokeDash":[2,2],"opacity":1},"encoding":{"x":{"datum":1.09,"type":"quantitative","scale":{"domain":[0,1]},"axis":null},"y":{"datum":1.5,"type":"quantitative","scale":{"domain":[0,1]},"axis":null}}},
  {"width":164,"height":10,"data":{"values":[{"t":""}]},"mark":{"type":"text"},"encoding":{"text":{"field":"t"}}}
 ]}
],
"config":{
 "view":{"stroke":null},
 "axis":{"labelFont":"Liberation Sans","labelFontSize":5.5,"labelColor":"#666666","labelOverlap":false,"tickSize":3,"tickColor":"#888888","tickWidth":0.6,"domain":false,"grid":false,"titleFont":"Liberation Sans","titleFontSize":7.5,"titleFontWeight":"bold","titleColor":"#222222","labelPadding":1,"titlePadding":2},
 "legend":{"orient":"none","legendX":1,"legendY":-1,"padding":1,"symbolType":"stroke","symbolSize":250,"symbolStrokeWidth":1.5,"labelFont":"Liberation Sans","labelFontSize":7.5,"labelColor":"#333333","rowPadding":0,"clipHeight":8,"labelOffset":2}
}
}
